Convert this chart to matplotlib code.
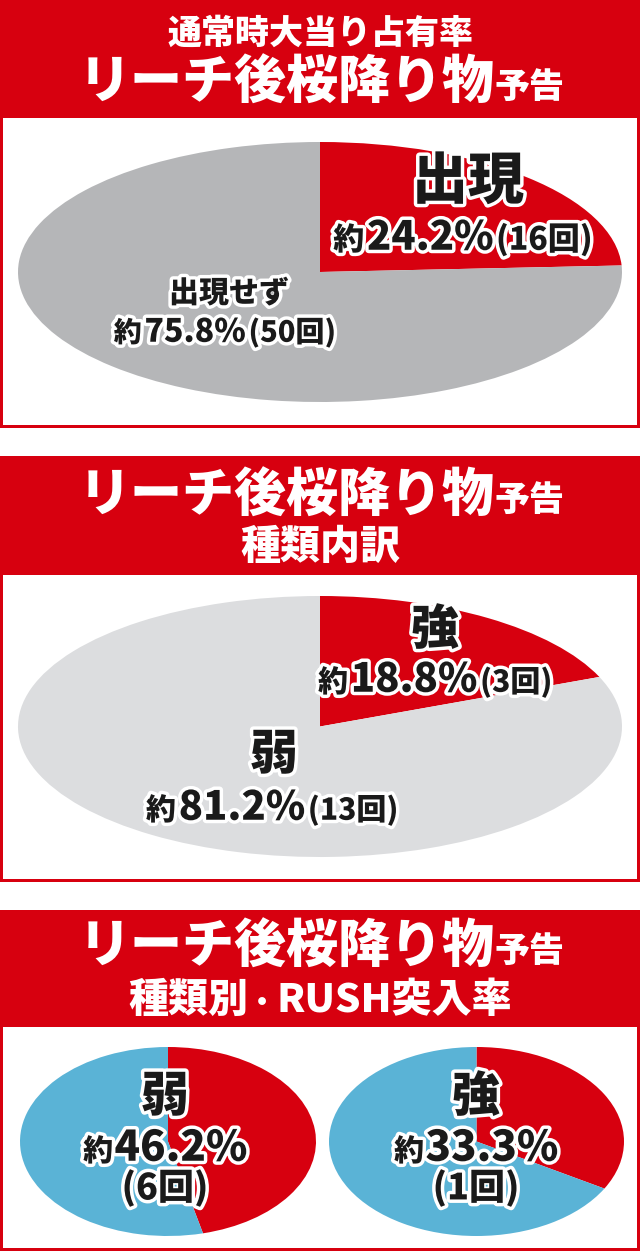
import matplotlib
matplotlib.use("Agg")
import matplotlib.pyplot as plt
import matplotlib.patheffects as pe
from matplotlib.patches import Rectangle
from matplotlib.offsetbox import TextArea, HPacker, AnnotationBbox

plt.rcParams['font.family'] = ['Noto Sans CJK JP', 'DejaVu Sans']

# ---------------- data ----------------
title1_top = "通常時大当り占有率"
title_main = "リーチ後桜降り物"
title_small = "予告"
title2_sub = "種類内訳"
title3_sub = "種類別・RUSH突入率"

p1_labels = ["出現", "出現せず"]
p1_values = [24.2, 75.8]
p1_counts = [16, 50]

p2_labels = ["強", "弱"]
p2_values = [18.8, 81.2]
p2_counts = [3, 13]

p3_labels = ["弱", "強"]
p3_rush = [46.2, 33.3]
p3_counts = [6, 1]

RED = "#d7000f"
GREY = "#b5b6b8"
LGREY = "#dcdddf"
BLUE = "#5ab3d6"

W, H = 640, 1253
fig = plt.figure(figsize=(W / 100, H / 100), dpi=100)
bg = fig.add_axes([0, 0, 1, 1])
bg.set_xlim(0, W)
bg.set_ylim(H, 0)
bg.axis("off")

def px(v):
    return v * 72 / 100.0

# panels: (header top, header bottom, box bottom)
panels = [(0, 118, 428), (456, 575, 882), (910, 1027, 1251)]
for top, hb, bot in panels:
    bg.add_patch(Rectangle((0, top), W, bot - top, color=RED, lw=0))
    bg.add_patch(Rectangle((3, hb), W - 6, bot - hb - 3, color="white", lw=0))

# pies
def pie_axes(x0, y0, x1, y1, values, colors):
    ax = fig.add_axes([x0 / W, 1 - y1 / H, (x1 - x0) / W, (y1 - y0) / H])
    ax.pie(values, colors=colors, startangle=90, counterclock=False,
           radius=1, wedgeprops=dict(linewidth=0))
    ax.set_aspect("auto")
    ax.set_xlim(-1, 1)
    ax.set_ylim(-1, 1)
    ax.axis("off")
    return ax

pie_axes(18, 142, 622, 402, p1_values, [RED, GREY])
pie_axes(18, 596, 622, 857, p2_values, [RED, LGREY])
pie_axes(20, 1047, 316, 1236, [p3_rush[0], 100 - p3_rush[0]], [RED, BLUE])
pie_axes(329, 1047, 624, 1236, [p3_rush[1], 100 - p3_rush[1]], [RED, BLUE])

# overlay for text
ov = fig.add_axes([0, 0, 1, 1])
ov.set_xlim(0, W)
ov.set_ylim(H, 0)
ov.axis("off")
ov.patch.set_alpha(0)

OUT = [pe.withStroke(linewidth=5, foreground="white")]

def seg(text, size, color="#1a1a1a", outline=True):
    props = dict(fontsize=px(size), color=color, fontweight="black",
                 family=['Noto Sans CJK JP', 'DejaVu Sans'])
    if outline:
        props["path_effects"] = OUT
    return TextArea(text, textprops=props)

def place(parts, x, y, sep=0):
    box = HPacker(children=parts, align="baseline", pad=0, sep=sep)
    ab = AnnotationBbox(box, (x, y), xycoords="data", frameon=False,
                        box_alignment=(0.5, 0.5), pad=0)
    ov.add_artist(ab)

def header_main(y):
    place([seg(title_main, 52, "white", False), seg(title_small, 35, "white", False)], 322, y)

# headers
place([seg(title1_top, 34, "white", False)], 321, 33)
header_main(83)
header_main(496)
place([seg(title2_sub, 40, "white", False)], 320, 547)
header_main(947)
place([seg("種類別", 40, "white", False), seg("・", 28, "white", False),
       seg("RUSH突入率", 40, "white", False)], 320, 1000)

def pct(v):
    return f"{v:.1f}%"

def cnt(c):
    return f"({c}回)"

# panel 1 labels
place([seg(p1_labels[0], 56)], 468, 182)
place([seg("約", 31), seg(pct(p1_values[0]), 40), seg(cnt(p1_counts[0]), 32)], 463, 238, sep=2)
place([seg(p1_labels[1], 30)], 229, 293)
place([seg("約", 28), seg(pct(p1_values[1]), 32), seg(cnt(p1_counts[1]), 29)], 225, 332, sep=2)

# panel 2 labels
place([seg(p2_labels[0], 48)], 435, 630)
place([seg("約", 30), seg(pct(p2_values[0]), 40), seg(cnt(p2_counts[0]), 30)], 435, 680, sep=2)
place([seg(p2_labels[1], 48)], 274, 755)
place([seg("約", 30), seg(pct(p2_values[1]), 40), seg(cnt(p2_counts[1]), 30)], 272, 808, sep=2)

# panel 3 labels
for cx, lab, r, c in zip([165, 476], p3_labels, p3_rush, p3_counts):
    place([seg(lab, 48)], cx, 1097)
    place([seg("約", 30), seg(pct(r), 42)], cx, 1148, sep=1)
    place([seg(cnt(c), 36)], cx, 1188)

fig.savefig("out.png", dpi=100)
